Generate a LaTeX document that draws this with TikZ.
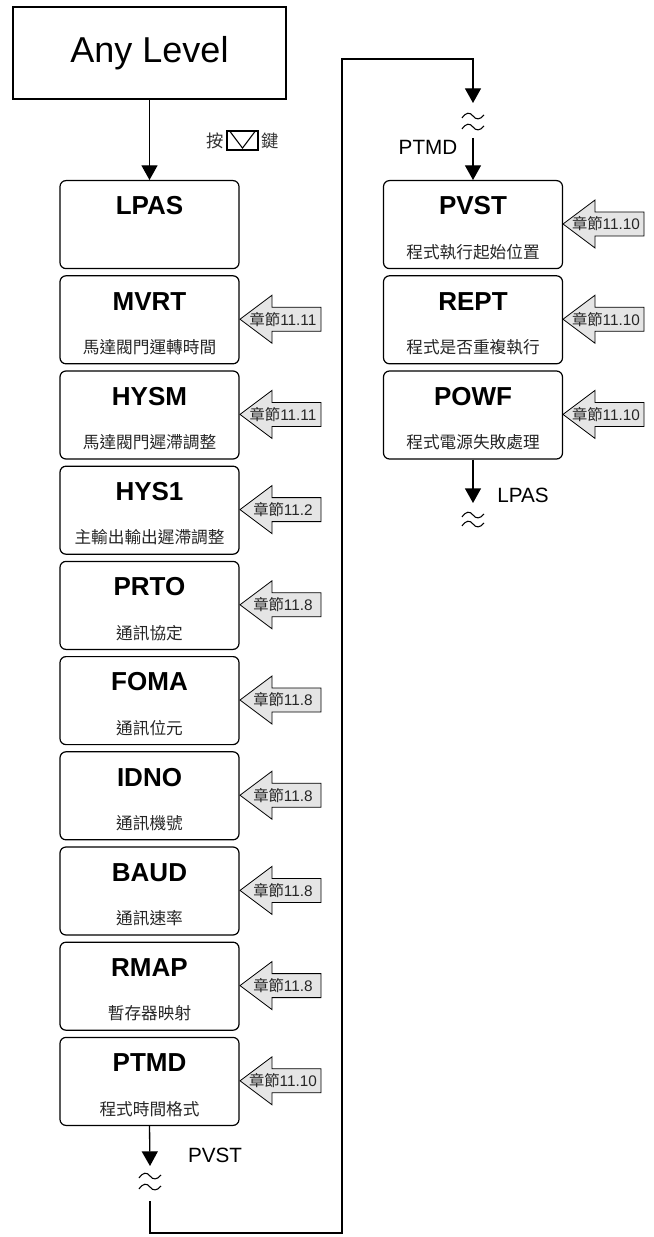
\documentclass[tikz,border=0pt]{standalone}
\usepackage{fontspec}
\setmainfont{Liberation Sans}
\newfontfamily\cjk{Noto Sans CJK TC}
\usetikzlibrary{arrows.meta}

\begin{document}
\begin{tikzpicture}[
    x=0.75pt, y=-0.75pt,
    startbox/.style={draw, line width=0.9pt, minimum width=204.75pt, minimum height=69pt, inner sep=0pt,
        font=\fontsize{27}{30}\selectfont},
    parambox/.style={draw, rounded corners=4.5pt, line width=0.9pt, minimum width=134.25pt, minimum height=66pt, inner sep=0pt},
    boxtitle/.style={font=\fontsize{19.5}{22}\selectfont\bfseries, inner sep=0pt},
    boxdesc/.style={font=\cjk\fontsize{12.5}{14}\selectfont, text=black!85, inner sep=0pt},
    refarrow/.style={draw, fill=gray!20, line width=0.6pt, line join=miter},
    reftext/.style={font=\fontsize{11.5}{13}\selectfont, text=black!85, inner sep=0pt},
    flowlabel/.style={font=\fontsize{15.5}{17}\selectfont, inner sep=0pt},
    wire/.style={line width=1pt},
    flow/.style={line width=1pt, -{Triangle[width=12pt,length=11pt]}},
    waveline/.style={line width=0.8pt},
]
    \useasboundingbox (0,0) rectangle (653,1237);
    \def\pitch{95.2}

    % start
    \node[startbox] (boxAny) at (149.5,53) {Any Level};
    \node[boxdesc, text=black!80, font=\cjk\fontsize{13}{15}\selectfont] (keyL) at (215,141) {按};
    \node[draw, line width=1.4pt, minimum width=23.25pt, minimum height=14pt, inner sep=0pt] (keyBox) at (242.5,140.5) {};
    \node[boxdesc, text=black!80, font=\cjk\fontsize{13}{15}\selectfont] (keyR) at (270.5,141) {鍵};
    \draw[line width=0.8pt] ([xshift=3pt,yshift=-1pt]keyBox.north west) -- ([yshift=2pt]keyBox.south)
        -- ([xshift=-3pt,yshift=-1pt]keyBox.north east);

    % left column
    \node[parambox, anchor=north] (boxLPAS) at (149.5,180) {};
    \node[boxtitle] (titleLPAS) at (149.5,206) {LPAS};
    \foreach \code/\desc/\chap [count=\i from 1] in {%
        MVRT/馬達閥門運轉時間/11.11,%
        HYSM/馬達閥門遲滯調整/11.11,%
        HYS1/主輸出輸出遲滯調整/11.2,%
        PRTO/通訊協定/11.8,%
        FOMA/通訊位元/11.8,%
        IDNO/通訊機號/11.8,%
        BAUD/通訊速率/11.8,%
        RMAP/暫存器映射/11.8,%
        PTMD/程式時間格式/11.10%
    }{
        \pgfmathsetmacro{\ytop}{180+\i*\pitch}
        \pgfmathsetmacro{\ymid}{\ytop+44}
        \node[parambox, anchor=north] (box\code) at (149.5,\ytop) {};
        \node[boxtitle] (title\code) at (149.5,\ytop+26) {\code};
        \node[boxdesc] (desc\code) at (149.5,\ytop+72) {\desc};
        \draw[refarrow] (240,\ymid) -- ++(32,-24) -- ++(0,12) -- ++(49,0) -- ++(0,24)
            -- ++(-49,0) -- ++(0,12) -- cycle;
        \node[reftext] (ref\code) at (283,\ymid) {{\cjk 章節}\chap};
    }

    % right column
    \foreach \code/\desc/\chap [count=\i from 0] in {%
        PVST/程式執行起始位置/11.10,%
        REPT/程式是否重複執行/11.10,%
        POWF/程式電源失敗處理/11.10%
    }{
        \pgfmathsetmacro{\ytop}{180+\i*\pitch}
        \pgfmathsetmacro{\ymid}{\ytop+44}
        \node[parambox, anchor=north] (box\code) at (473,\ytop) {};
        \node[boxtitle] (title\code) at (473,\ytop+26) {\code};
        \node[boxdesc] (desc\code) at (473,\ytop+72) {\desc};
        \draw[refarrow] (563,\ymid) -- ++(32,-24) -- ++(0,12) -- ++(49,0) -- ++(0,24)
            -- ++(-49,0) -- ++(0,12) -- cycle;
        \node[reftext] (ref\code) at (606,\ymid) {{\cjk 章節}\chap};
    }

    % connectors
    \draw[flow] (boxAny.south) -- (boxLPAS.north);

    \coordinate (ptmdOut) at (150,1166);
    \coordinate (loopStart) at (150,1201);
    \coordinate (loopBot) at (342,1233);
    \coordinate (loopTop) at (342,59);
    \coordinate (pvstBreak) at (473,103);
    \coordinate (pvstFrom) at (473,138);
    \coordinate (powfOut) at (473,503);

    \draw[flow] (boxPTMD.south) -- (ptmdOut);
    \draw[flow] (loopStart) |- (loopBot) -- (loopTop) -| (pvstBreak);
    \draw[flow] (pvstFrom) -- (boxPVST.north);
    \draw[flow] (boxPOWF.south) -- (powfOut);

    \node[flowlabel] (lblPVST) at (215,1155) {PVST};
    \node[flowlabel] (lblPTMD) at (428,147) {PTMD};
    \node[flowlabel] (lblLPAS) at (523,495) {LPAS};

    % break marks
    \foreach \bx/\by in {150/1176, 150/1187, 473/116, 473/127, 473/515, 473/524}{
        \draw[waveline] (\bx-11,\by+2) .. controls (\bx-7,\by-4) and (\bx-3,\by-4) .. (\bx,\by)
            .. controls (\bx+3,\by+4) and (\bx+7,\by+4) .. (\bx+11,\by-1);
    }

\end{tikzpicture}
\end{document}
